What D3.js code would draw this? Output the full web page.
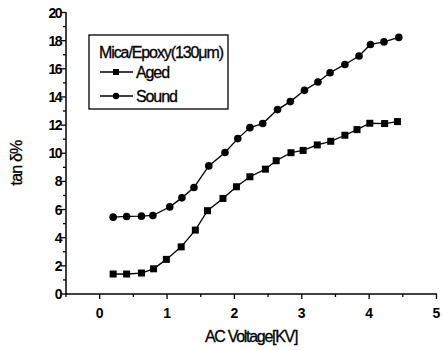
<!DOCTYPE html>
<html><head><meta charset="utf-8">
<script src="https://cdn.jsdelivr.net/npm/d3@7"></script>
<style>body{margin:0;background:#fff}svg{display:block}text{font-family:"Liberation Sans",Arial,sans-serif;fill:#000}</style>
</head><body><svg id="c" width="443" height="350"></svg>
<script>
const voltAged = [0.2,0.4,0.62,0.8,0.99,1.21,1.42,1.6,1.83,2.03,2.23,2.46,2.62,2.84,3.02,3.23,3.43,3.64,3.82,4.01,4.23,4.42];
const tanAged = [1.42,1.42,1.49,1.79,2.46,3.35,4.54,5.92,6.79,7.62,8.33,8.87,9.47,10.04,10.2,10.59,10.85,11.28,11.68,12.13,12.11,12.25];
const voltSound = [0.2,0.4,0.62,0.79,1.04,1.22,1.4,1.62,1.86,2.05,2.23,2.42,2.64,2.83,3.04,3.24,3.42,3.64,3.85,4.02,4.22,4.44];
const tanSound = [5.46,5.51,5.53,5.58,6.19,6.83,7.57,9.1,10.05,11.04,11.82,12.11,13.1,13.67,14.47,15.06,15.72,16.31,16.91,17.73,17.91,18.23];
const xTicks = [0,1,2,3,4,5];
const yTicks = [0,2,4,6,8,10,12,14,16,18,20];
const legendTitle = "Mica/Epoxy(130μm)";
const seriesNames = ["Aged","Sound"];
const xLabel = "AC Voltage[KV]";
const yLabel = "tan δ%";

const svg = d3.select("#c");
const x = d3.scaleLinear().domain([-0.5,5]).range([66,436.5]);
const y = d3.scaleLinear().domain([0,20]).range([294,12.5]);

// axes
const xa = svg.append("g").attr("transform","translate(0,294)");
xa.append("line").attr("x1",66).attr("x2",437).attr("stroke","#000").attr("stroke-width",1.5);
xa.selectAll(".mn").data(d3.range(-0.5,5.01,0.5)).enter().append("line")
  .attr("x1",d=>x(d)).attr("x2",d=>x(d)).attr("y1",0).attr("y2",d=>Number.isInteger(d)?5:3)
  .attr("stroke","#000").attr("stroke-width",1.3);
xa.selectAll(".tl").data(xTicks).enter().append("text")
  .attr("x",d=>x(d)).attr("y",24).attr("text-anchor","middle")
  .attr("font-size",14).attr("font-weight","bold").text(d=>d);

const ya = svg.append("g").attr("transform","translate(66,0)");
ya.append("line").attr("y1",294.7).attr("y2",12).attr("stroke","#000").attr("stroke-width",1.5);
ya.selectAll(".mn").data(d3.range(0,20.01,1)).enter().append("line")
  .attr("y1",d=>y(d)).attr("y2",d=>y(d)).attr("x1",0).attr("x2",d=>d%2===0?-5:-3)
  .attr("stroke","#000").attr("stroke-width",1.3);
ya.selectAll(".tl").data(yTicks).enter().append("text")
  .attr("x",-5).attr("y",d=>y(d)+5).attr("text-anchor","end")
  .attr("font-size",14).attr("font-weight","bold").attr("letter-spacing",-1.5).text(d=>d);

svg.append("text").attr("x",251).attr("y",342).attr("text-anchor","middle")
  .attr("font-size",16).attr("letter-spacing",-1.3).attr("stroke","#000").attr("stroke-width",0.3).text(xLabel);
svg.append("text").attr("transform","translate(22,163) rotate(-90)").attr("text-anchor","middle")
  .attr("font-size",16).attr("letter-spacing",-0.8).attr("stroke","#000").attr("stroke-width",0.3).text(yLabel);

const line = d3.line().x(d=>x(d[0])).y(d=>y(d[1]));
const aged = voltAged.map((v,i)=>[v,tanAged[i]]);
const sound = voltSound.map((v,i)=>[v,tanSound[i]]);
svg.append("path").datum(aged).attr("d",line).attr("fill","none").attr("stroke","#000").attr("stroke-width",1.3);
svg.append("path").datum(sound).attr("d",line).attr("fill","none").attr("stroke","#000").attr("stroke-width",1.3);
svg.selectAll(".sq").data(aged).enter().append("rect")
  .attr("x",d=>x(d[0])-3.5).attr("y",d=>y(d[1])-3.5).attr("width",7).attr("height",7).attr("fill","#000");
svg.selectAll(".ci").data(sound).enter().append("circle")
  .attr("cx",d=>x(d[0])).attr("cy",d=>y(d[1])).attr("r",3.8).attr("fill","#000");

// legend
const lg = svg.append("g");
lg.append("rect").attr("x",89).attr("y",35).attr("width",139).attr("height",74)
  .attr("fill","#fff").attr("stroke","#000").attr("stroke-width",1.3);
lg.append("text").attr("x",99).attr("y",58).attr("font-size",16).attr("letter-spacing",-1.1)
  .attr("stroke","#000").attr("stroke-width",0.3).text(legendTitle);
seriesNames.forEach((n,i)=>{
  const yy = 72 + i*24;
  lg.append("line").attr("x1",100).attr("x2",133).attr("y1",yy).attr("y2",yy).attr("stroke","#000").attr("stroke-width",1.3);
  if(i===0) lg.append("rect").attr("x",113).attr("y",yy-3).attr("width",6).attr("height",6).attr("fill","#000");
  else lg.append("circle").attr("cx",116).attr("cy",yy).attr("r",3.2).attr("fill","#000");
  lg.append("text").attr("x",136).attr("y",yy+6).attr("font-size",16).attr("letter-spacing",-1.1)
    .attr("stroke","#000").attr("stroke-width",0.3).text(n);
});
</script></body></html>
